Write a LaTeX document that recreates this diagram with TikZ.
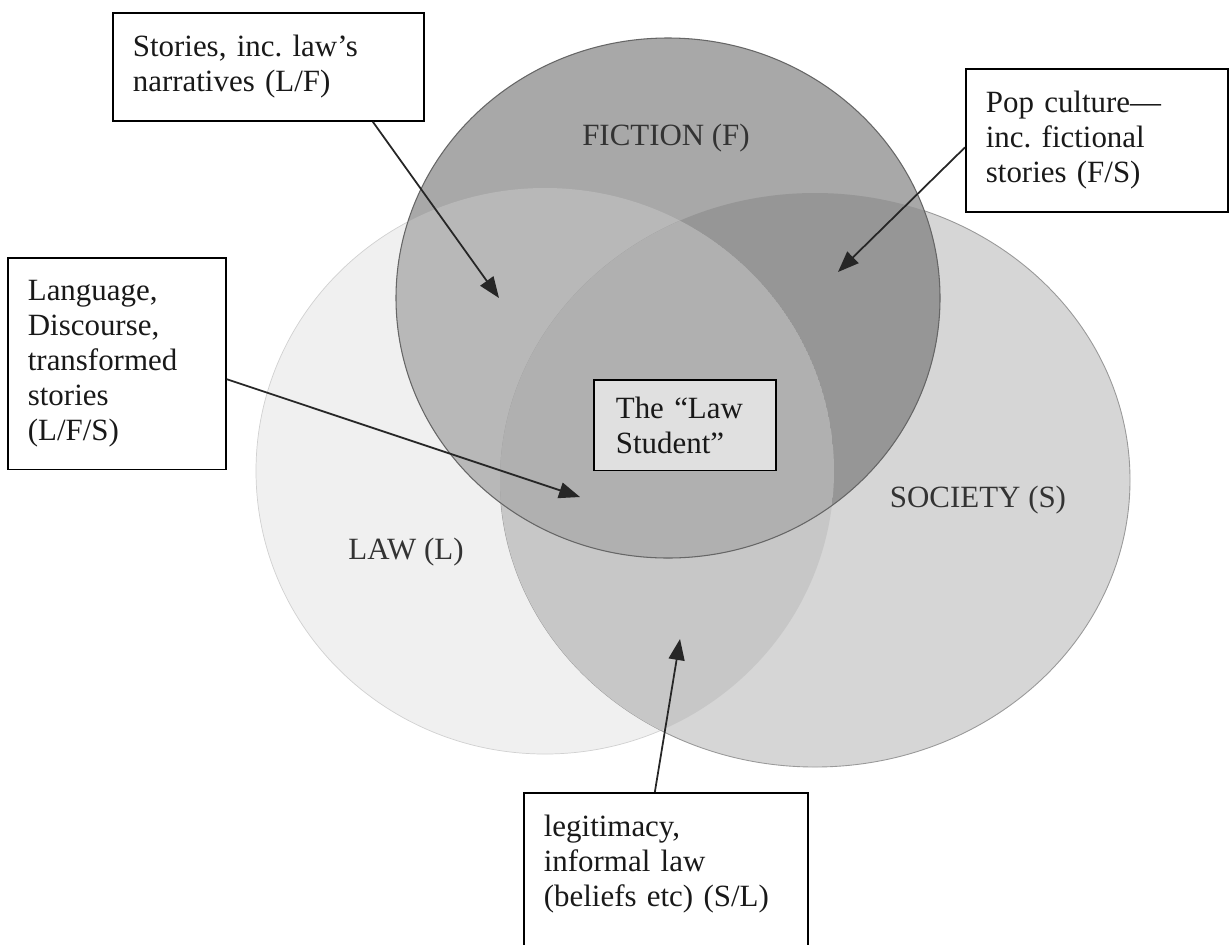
\documentclass[tikz,border=0pt]{standalone}
\usepackage{fontspec}
\setmainfont{Liberation Serif}
\usetikzlibrary{arrows.meta}
\frenchspacing
\newcommand{\boxfont}{\fontsize{17.6}{19.9}\selectfont}
% the three sets, in px (y downwards)
\newcommand{\lawpath}{(545,471) ellipse [x radius=289, y radius=283]}
\newcommand{\socpath}{(815,480) ellipse [x radius=315, y radius=287]}
\newcommand{\ficpath}{(668,298) ellipse [x radius=272, y radius=260]}

\begin{document}
\begin{tikzpicture}[x=0.02cm,y=-0.02cm,
  tbox/.style={draw,line width=1pt,fill=white,anchor=north west,align=left,
    inner xsep=0.4cm,inner ysep=0.45cm,font=\boxfont,text=black!90},
  setlbl/.style={font=\boxfont,text=black!80},
  ptr/.style={-{Triangle[length=0.42cm,width=0.32cm]},line width=1pt,black!85}]
\useasboundingbox (0,0) rectangle (1230,944);
\fill[white] (0,0) rectangle (1230,944);

% law and society
\fill[black!6] \lawpath;
\draw[black!18,line width=0.4pt] \lawpath;
\fill[black!16] \socpath;
\draw[black!40,line width=0.5pt] \socpath;
\begin{scope}
  \clip \lawpath;
  \fill[black!22] \socpath;
\end{scope}

% fiction on top, with its overlaps
\fill[black!34] \ficpath;
\begin{scope}
  \clip \ficpath; \clip \lawpath;
  \fill[black!28] \lawpath;
\end{scope}
\begin{scope}
  \clip \ficpath; \clip \socpath;
  \fill[black!41] \socpath;
\end{scope}
\begin{scope}
  \clip \ficpath; \clip \socpath; \clip \lawpath;
  \fill[black!31] \lawpath;
\end{scope}
\draw[black!60,line width=0.6pt] \ficpath;

\node[setlbl] (ficlbl) at (666,138) {FICTION (F)};
\node[setlbl] (soclbl) at (978,500) {SOCIETY (S)};
\node[setlbl] (lawlbl) at (406,552) {LAW (L)};

% boxes
\node[tbox,text width=5.42cm] (stories) at (112,12) {Stories, inc. law’s\\narratives (L/F)};
\node[tbox,text width=4.44cm] (popcult) at (965,68) {Pop culture—\\inc. fictional\\stories (F/S)};
\node[tbox,text width=3.56cm] (language) at (7,257) {Language,\\Discourse,\\transformed\\stories\\(L/F/S)};
\node[tbox,text width=2.76cm,inner xsep=0.44cm,inner ysep=0.34cm,fill=black!12] (student) at (593,379) {The “Law\\Student”};
\node[tbox,text width=4.88cm] (legit) at (523,792) {legitimacy,\\informal law\\(beliefs etc) (S/L)\\~};

% pointers
\coordinate (storytip) at (499,298);
\coordinate (poptip) at (838,272);
\coordinate (langtip) at (580,497);
\coordinate (legittip) at (680,639);
\draw[ptr] ([xshift=2.09cm]stories.south) -- (storytip);
\draw[ptr] ([yshift=-0.14cm]popcult.west) -- (poptip);
\draw[ptr] ([yshift=-0.31cm]language.east) -- (langtip);
\draw[ptr] ([xshift=-0.22cm]legit.north) -- (legittip);
\end{tikzpicture}
\end{document}
